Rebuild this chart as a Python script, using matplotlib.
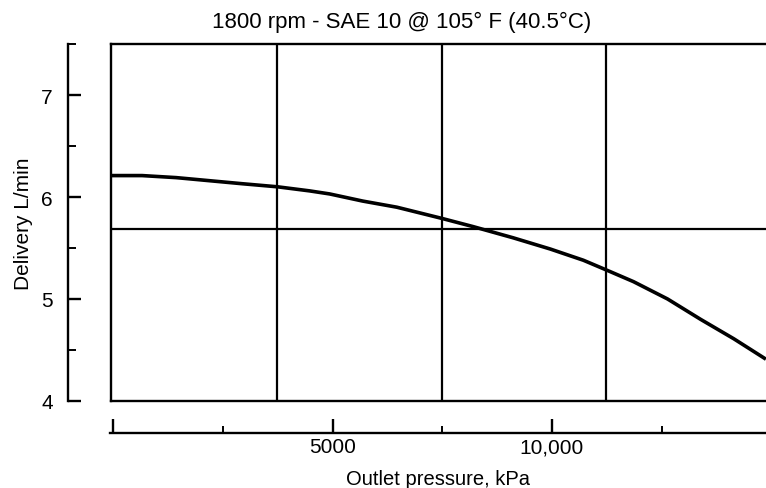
import numpy as np
import matplotlib
matplotlib.use("Agg")
import matplotlib.pyplot as plt
from matplotlib.ticker import MultipleLocator, FixedLocator

plt.rcParams['font.family'] = ['Liberation Sans', 'DejaVu Sans']

# delivery curve (kPa, L/min)
pressure = [0, 706, 1481, 2232, 2984, 3781, 4510, 4966, 5718, 6492, 7517, 8223,
            9134, 9977, 10729, 11276, 11868, 12642, 13394, 14146, 14875]
delivery = [6.21, 6.21, 6.19, 6.16, 6.13, 6.10, 6.06, 6.03, 5.96, 5.90, 5.79, 5.71,
            5.60, 5.49, 5.38, 5.28, 5.17, 5.00, 4.80, 4.61, 4.41]

grid_x = [3780, 7510, 11250]   # vertical chart lines
ref_y = 5.69                   # horizontal chart line

y_ticks = [4, 5, 6, 7]
x_ticks = [0, 5000, 10000]
x_labels = ['', '5000', '10,000']

W, H = 766, 489
fig = plt.figure(figsize=(W / 100, H / 100), dpi=100)

xmin, xmax = 0, 14900
ymin, ymax = 4, 7.5

# main box
ax = fig.add_axes([111 / W, 87 / H, 656 / W, 357 / H])
ax.plot(pressure, delivery, color='black', lw=2.6, solid_capstyle='butt',
        solid_joinstyle='round')
for gx in grid_x:
    ax.axvline(gx, color='black', lw=1.6)
ax.axhline(ref_y, color='black', lw=1.6)
ax.set_xlim(xmin, xmax)
ax.set_ylim(ymin, ymax)
ax.set_xticks([])
ax.set_yticks([])
ax.spines['right'].set_visible(False)
for s in ['left', 'top', 'bottom']:
    ax.spines[s].set_linewidth(1.7)

# y scale, set apart to the left
yax = fig.add_axes([68 / W, 87 / H, 1 / W, 357 / H])
yax.patch.set_visible(False)
for s in ['right', 'top', 'bottom']:
    yax.spines[s].set_visible(False)
yax.spines['left'].set_linewidth(1.7)
yax.set_ylim(ymin, ymax)
yax.set_xticks([])
yax.yaxis.set_major_locator(FixedLocator(y_ticks))
yax.yaxis.set_minor_locator(MultipleLocator(0.5))
yax.tick_params(axis='y', which='major', direction='in', length=9, width=1.7,
                labelsize=15, pad=11)
yax.tick_params(axis='y', which='minor', direction='in', length=6, width=1.4)
yax.set_ylabel('Delivery L/min', fontsize=15, labelpad=6)

# x scale, set apart below
xax = fig.add_axes([110 / W, 55 / H, 657 / W, 1 / H])
xax.patch.set_visible(False)
for s in ['left', 'right', 'top']:
    xax.spines[s].set_visible(False)
xax.spines['bottom'].set_linewidth(1.7)
xax.set_xlim(-70, xmax)
xax.set_yticks([])
xax.xaxis.set_major_locator(FixedLocator(x_ticks))
xax.set_xticklabels(x_labels)
xax.xaxis.set_minor_locator(MultipleLocator(2500))
xax.tick_params(axis='x', which='major', direction='in', length=10, width=1.7,
                labelsize=15, pad=3)
xax.tick_params(axis='x', which='minor', direction='in', length=5, width=1.4)
xax.set_xlabel('Outlet pressure, kPa', fontsize=14.5, labelpad=9)

fig.text(402 / W, 1 - 22 / H, '1800 rpm - SAE 10 @ 105\u00b0 F (40.5\u00b0C)',
         ha='center', va='center', fontsize=16)

fig.savefig('out.png', dpi=100)
